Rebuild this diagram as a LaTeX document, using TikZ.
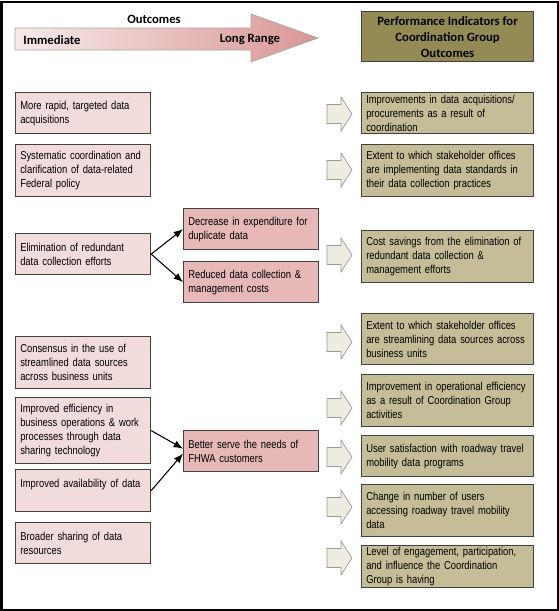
\documentclass[tikz,border=0pt]{standalone}
\usepackage{fontspec}
\newfontfamily\narrowsans{Liberation Sans}[FakeStretch=0.82]
\newfontfamily\headsans{Carlito}
\usetikzlibrary{calc}
\usetikzlibrary{arrows.meta}
\definecolor{pinklight}{HTML}{F2DCDB}
\definecolor{pinkmid}{HTML}{E6B9B8}
\definecolor{pinkdark}{HTML}{D99694}
\definecolor{indtan}{HTML}{C4BD97}
\definecolor{headolive}{HTML}{948A54}
\definecolor{arrowfill}{HTML}{EEECE1}
\hyphenpenalty=10000
\exhyphenpenalty=10000

\begin{document}
\begin{tikzpicture}[x=0.75pt,y=-0.75pt,
  every node/.style={font=\narrowsans\fontsize{8.6}{10.5}\selectfont},
  headfont/.style={font=\headsans\bfseries\fontsize{9.5}{12}\selectfont},
  outcome/.style={draw=black!75,line width=0.9pt,fill=pinklight,anchor=north west,align=left,
    text width=94.25pt,inner xsep=3.5pt,inner ysep=2pt,minimum width=101.25pt},
  result/.style={outcome,fill=pinkmid},
  indicator/.style={outcome,fill=indtan,text width=122pt,minimum width=129pt},
  blockarrow/.style={draw=gray!80,line width=0.5pt,fill=arrowfill},
  link/.style={-{Latex[length=7pt,width=5.5pt]},line width=0.8pt}]
  \useasboundingbox (0,0) rectangle (559,611);
  \draw [line width=1.5pt] (1.5,1.5) rectangle (557.5,609.5);
  % time line
  \draw [left color=pinklight!60!white,right color=pinkdark,draw=gray!70,line width=0.5pt]
    (15,28) -- (251,28) -- (251,14) -- (318,38) -- (251,62) -- (251,50) -- (15,50) -- cycle;
  \node [headfont] (outcomesLabel) at (154,19) {Outcomes};
  \node [headfont] (immLabel) at (52,40) {Immediate};
  \node [headfont] (longLabel) at (250,39) {Long Range};
  \node [headfont,draw=black!75,line width=0.9pt,fill=headolive,anchor=north west,align=center,
    minimum width=129pt,minimum height=37.5pt,inner sep=1pt] (header) at (361,11)
    {Performance Indicators for\\Coordination Group\\Outcomes};
  % outcomes
  \node [outcome,minimum height=30.75pt] (rapid) at (15,92) {More rapid, targeted data\\acquisitions};
  \node [outcome,minimum height=39pt] (policy) at (15,144) {Systematic coordination and\\clarification of data-related\\Federal policy};
  \node [outcome,minimum height=30.75pt] (redund) at (15,233) {Elimination of redundant\\data collection efforts};
  \node [outcome,minimum height=39pt] (consensus) at (15,336) {Consensus in the use of\\streamlined data sources\\across business units};
  \node [outcome,minimum height=49.5pt] (effic) at (15,397) {Improved efficiency in\\business operations \& work\\processes through data\\sharing technology};
  \node [outcome,minimum height=31.5pt] (avail) at (15,469) {Improved availability of data\\\mbox{}};
  \node [outcome,minimum height=30.75pt] (sharing) at (15,522) {Broader sharing of data\\resources};
  \node [result,minimum height=30.75pt] (expend) at (183,208) {Decrease in expenditure for\\duplicate data};
  \node [result,minimum height=30.75pt] (costs) at (183,261) {Reduced data collection \&\\management costs};
  \node [result,minimum height=30.75pt] (serve) at (183,430) {Better serve the needs of\\FHWA customers};
  \draw [link] (redund.east) -- (expend.west);
  \draw [link] (redund.east) -- (costs.west);
  \draw [link] (effic.east) -- ($ (serve.west)+(0,-2.5) $);
  \draw [link] (avail.east) -- ($ (serve.west)+(0,2.5) $);
  % indicators
  \node [indicator,minimum height=30.75pt,inner ysep=0pt] (ind1) at (361,92) {Improvements in data acquisitions/\\procurements as a result of\\coordination};
  \node [indicator,minimum height=39pt] (ind2) at (361,144) {Extent to which stakeholder offices\\are implementing data standards in\\their data collection practices};
  \node [indicator,minimum height=39pt] (ind3) at (361,230) {Cost savings from the elimination of\\redundant data collection \&\\management efforts};
  \node [indicator,minimum height=38.25pt] (ind4) at (361,313) {Extent to which stakeholder offices\\are streamlining data sources across\\business units};
  \node [indicator,minimum height=39pt] (ind5) at (361,374) {Improvement in operational efficiency\\as a result of Coordination Group\\activities};
  \node [indicator,minimum height=30.75pt] (ind6) at (361,435) {User satisfaction with roadway travel\\mobility data programs};
  \node [indicator,minimum height=39pt] (ind7) at (361,484) {Change in number of users\\accessing roadway travel mobility\\data};
  \node [indicator,minimum height=31.5pt,inner ysep=0pt] (ind8) at (361,545) {Level of engagement, participation,\\and influence the Coordination\\Group is having};
  \foreach \y in {114,170,255,342,408,457,507,558}
    \draw [blockarrow] (327,\y-9.5) -- (341,\y-9.5) -- (341,\y-17) -- (352,\y)
      -- (341,\y+17) -- (341,\y+9.5) -- (327,\y+9.5) -- cycle;
\end{tikzpicture}
\end{document}
